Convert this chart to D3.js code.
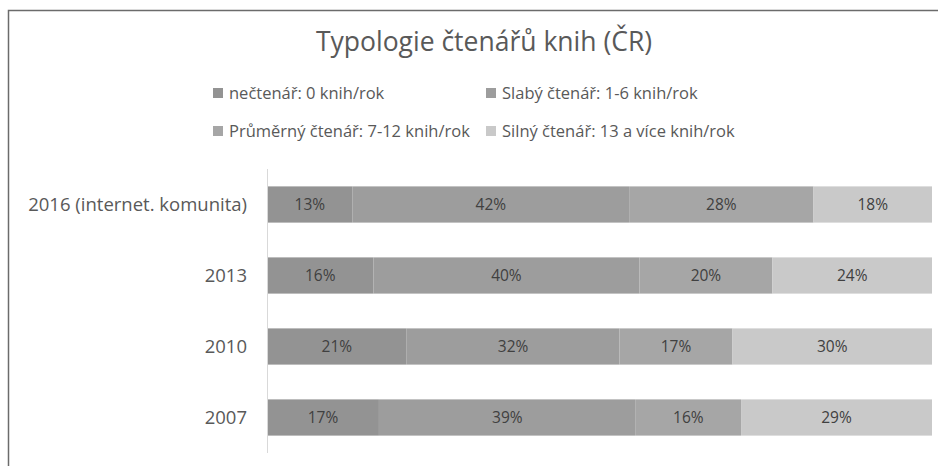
<!DOCTYPE html>
<html>
<head>
<meta charset="utf-8">
<script src="https://cdn.jsdelivr.net/npm/d3@7"></script>
<style>
  body { margin: 0; background: #fff; }
  text { font-family: "Open Sans", sans-serif; }
</style>
</head>
<body>
<script>
// data
var years = ["2016 (internet. komunita)", "2013", "2010", "2007"];
var seriesNames = ["nečtenář: 0 knih/rok", "Slabý čtenář: 1-6 knih/rok",
                   "Průměrný čtenář: 7-12 knih/rok", "Silný čtenář: 13 a více knih/rok"];
var necetnar = [13, 16, 21, 17];
var slaby = [42, 40, 32, 39];
var prumerny = [28, 20, 17, 16];
var silny = [18, 24, 30, 29];
var colors = ["#939393", "#9d9d9d", "#a6a6a6", "#c9c9c9"];
//////////////////////////////

var W = 938, H = 466;
var keys = ["a", "b", "c", "d"];
var rows = years.map(function (y, i) {
	return { year: y, a: necetnar[i], b: slaby[i], c: prumerny[i], d: silny[i] };
});

var svg = d3.select("body").append("svg")
	.attr("width", W)
	.attr("height", H);

// frame (top + left edge of the cropped chart)
svg.append("path")
	.attr("d", "M8.5," + H + "V10.5H" + W)
	.attr("fill", "none")
	.attr("stroke", "#6b6b6b")
	.attr("stroke-width", 1.5);

svg.append("text")
	.text("Typologie čtenářů knih (ČR)")
	.attr("x", 484)
	.attr("y", 51)
	.attr("text-anchor", "middle")
	.attr("font-size", "26.5px")
	.attr("fill", "#595959");

// legend
var legX = [213, 486], legY = [93, 131];
var leg = svg.selectAll("g.leg")
	.data(seriesNames)
	.enter()
	.append("g")
	.attr("class", "leg")
	.attr("transform", function (d, i) {
		return "translate(" + legX[i % 2] + "," + legY[Math.floor(i / 2)] + ")";
	});
leg.append("rect")
	.attr("x", 0).attr("y", -5)
	.attr("width", 10).attr("height", 10)
	.attr("fill", function (d, i) { return colors[i]; });
leg.append("text")
	.text(function (d) { return d; })
	.attr("x", 16)
	.attr("y", 6)
	.attr("font-size", "16.5px")
	.attr("fill", "#595959");

var x = d3.scaleLinear().domain([0, 1]).range([267, 932]);
var y = d3.scaleBand().domain(years).range([169, 453]).paddingInner(0.49).paddingOuter(0.245);

var stack = d3.stack().keys(keys).offset(d3.stackOffsetExpand);
var layers = stack(rows);

var g = svg.selectAll("g.layer")
	.data(layers)
	.enter()
	.append("g")
	.attr("class", "layer")
	.attr("fill", function (d, i) { return colors[i]; });

g.selectAll("rect")
	.data(function (d) { return d; })
	.enter()
	.append("rect")
	.attr("x", function (d) { return x(d[0]); })
	.attr("y", function (d) { return y(d.data.year); })
	.attr("width", function (d) { return x(d[1]) - x(d[0]); })
	.attr("height", y.bandwidth());

g.selectAll("text")
	.data(function (d) { return d.map(function (p) { p.key = d.key; return p; }); })
	.enter()
	.append("text")
	.text(function (d) { return d.data[d.key] + "%"; })
	.attr("x", function (d) { return (x(d[0]) + x(d[1])) / 2; })
	.attr("y", function (d) { return y(d.data.year) + y.bandwidth() / 2 + 5.5; })
	.attr("text-anchor", "middle")
	.attr("font-size", "15.5px")
	.attr("fill", "#404040");

// category axis
svg.append("line")
	.attr("x1", 267.5).attr("x2", 267.5)
	.attr("y1", 169).attr("y2", 453)
	.attr("stroke", "#d9d9d9");

svg.selectAll("text.cat")
	.data(years)
	.enter()
	.append("text")
	.attr("class", "cat")
	.text(function (d) { return d; })
	.attr("x", 247)
	.attr("y", function (d) { return y(d) + y.bandwidth() / 2 + 6.5; })
	.attr("text-anchor", "end")
	.attr("font-size", "18.5px")
	.attr("fill", "#595959");
</script>
</body>
</html>
